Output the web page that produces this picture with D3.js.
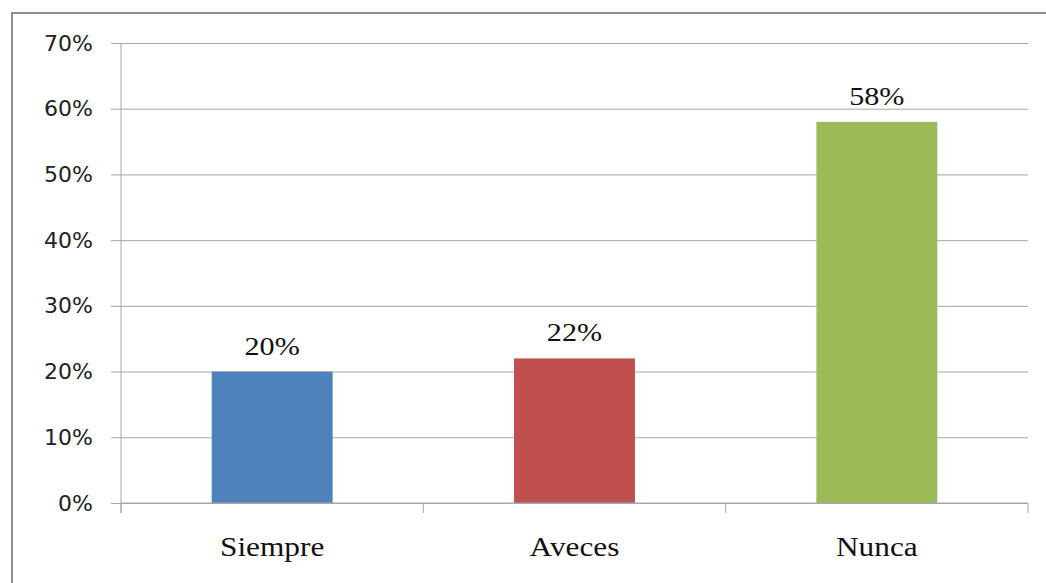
<!DOCTYPE html>
<html>
<head>
<meta charset="utf-8">
<script src="https://cdn.jsdelivr.net/npm/d3@7"></script>
<style>
  body { margin: 0; background: #fff; }
</style>
</head>
<body>
<div id="chart"></div>
<script>
var categories = ['Siempre', 'Aveces', 'Nunca'];
var values = [0.20, 0.22, 0.58];
var colors = ['#4F81BD', '#C0504D', '#9BBB59'];
var yTicks = [0, 0.1, 0.2, 0.3, 0.4, 0.5, 0.6, 0.7];

var w = 1046;
var h = 583;
var plotLeft = 121, plotRight = 1028, plotTop = 43, plotBottom = 503;
var stretch = 1.16; // the source image is a bit wider than tall

var svg = d3.select('#chart')
    .append('svg')
        .attr('width', w)
        .attr('height', h);

// outer frame (only top and left visible in the crop)
svg.append('path')
    .attr('d', 'M12,' + h + 'V13H' + w)
    .attr('fill', 'none')
    .attr('stroke', '#8c8c8c')
    .attr('stroke-width', 2);

var x = d3.scaleBand()
    .domain(categories)
    .range([plotLeft, plotRight])
    .paddingInner(0.6)
    .paddingOuter(0.3);

var y = d3.scaleLinear()
    .domain([0, 0.7])
    .range([plotBottom, plotTop]);

// gridlines + y ticks
var yAxis = svg.append('g')
    .attr('transform', 'translate(' + plotLeft + ',0)')
    .call(d3.axisLeft(y)
        .tickValues(yTicks)
        .tickSize(-(plotRight - plotLeft))
        .tickPadding(28)
        .tickFormat(d3.format('.0%')));
yAxis.select('.domain').remove();
yAxis.selectAll('.tick line')
    .attr('x1', -10)
    .attr('stroke', '#a6a6a6');
yAxis.selectAll('.tick text')
    .style('font-family', '"DejaVu Sans", Verdana, sans-serif')
    .style('font-size', '22px')
    .attr('fill', '#222');

// bars
svg.selectAll('rect.bar')
    .data(values)
    .enter()
    .append('rect')
        .attr('class', 'bar')
        .attr('x', (d, i) => x(categories[i]))
        .attr('y', d => y(d))
        .attr('width', x.bandwidth())
        .attr('height', d => y(0) - y(d))
        .style('fill', (d, i) => colors[i]);

// value labels
svg.selectAll('text.val')
    .data(values)
    .enter()
    .append('text')
        .attr('class', 'val')
        .attr('transform', (d, i) => 'translate(' + (x(categories[i]) + x.bandwidth() / 2) + ',' + (y(d) - 17) + ') scale(' + stretch + ',1)')
        .attr('text-anchor', 'middle')
        .style('font-family', '"Liberation Serif", "Times New Roman", serif')
        .style('font-size', '26px')
        .attr('fill', '#111')
        .text(d => d3.format('.0%')(d));

// y axis line
svg.append('line')
    .attr('x1', plotLeft).attr('x2', plotLeft)
    .attr('y1', plotTop).attr('y2', plotBottom + 10)
    .attr('stroke', '#a6a6a6');

// x axis line and ticks between categories
var xEdges = [plotLeft].concat(categories.map(c => x(c) + x.bandwidth() / 2 + x.step() / 2));
svg.append('line')
    .attr('x1', plotLeft).attr('x2', plotRight)
    .attr('y1', plotBottom).attr('y2', plotBottom)
    .attr('stroke', '#a6a6a6');
svg.selectAll('line.xt')
    .data(xEdges)
    .enter()
    .append('line')
        .attr('class', 'xt')
        .attr('x1', d => d).attr('x2', d => d)
        .attr('y1', plotBottom).attr('y2', plotBottom + 10)
        .attr('stroke', '#a6a6a6');

// category labels
svg.selectAll('text.cat')
    .data(categories)
    .enter()
    .append('text')
        .attr('class', 'cat')
        .attr('transform', d => 'translate(' + (x(d) + x.bandwidth() / 2) + ',556) scale(' + stretch + ',1)')
        .attr('text-anchor', 'middle')
        .style('font-family', '"Liberation Serif", "Times New Roman", serif')
        .style('font-size', '27px')
        .attr('fill', '#111')
        .text(d => d);
</script>
</body>
</html>
